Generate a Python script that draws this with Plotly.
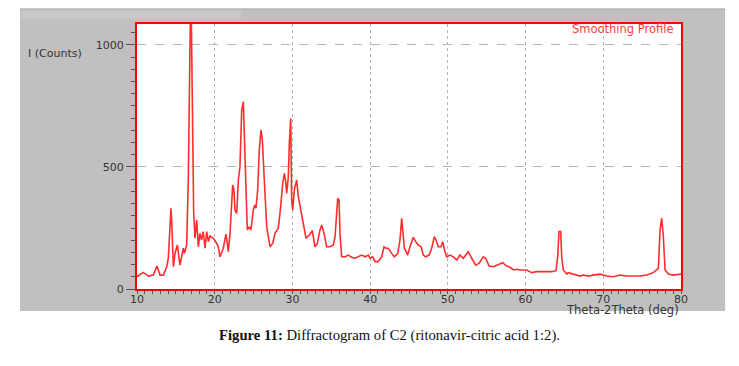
import plotly.graph_objects as go

# Diffraction angle (deg, 2-theta) and intensity (counts)
two_theta = [10.0, 10.8, 11.45, 12.1, 12.57, 12.96, 13.4, 13.82, 14.03, 14.25, 14.37, 14.46, 14.68, 14.89,
             15.19, 15.53, 15.75, 15.96, 16.1, 16.39, 16.6, 16.73, 16.86, 17.0, 17.12, 17.29, 17.46, 17.68,
             17.89, 18.1, 18.3, 18.53, 18.75, 18.97, 19.18, 19.39, 19.82, 20.13, 20.46, 20.68, 21.1, 21.45,
             21.62, 21.75, 21.97, 22.19, 22.31, 22.48, 22.6, 22.83, 23.04, 23.25, 23.47, 23.68, 23.9, 24.03,
             24.2, 24.45, 24.67, 24.97, 25.15, 25.31, 25.53, 25.74, 25.96, 26.13, 26.38, 26.69, 27.12, 27.46,
             27.76, 28.18, 28.49, 28.75, 28.96, 29.13, 29.26, 29.47, 29.6, 29.78, 29.9, 30.04, 30.24, 30.55,
             30.76, 31.07, 31.4, 31.75, 32.17, 32.56, 32.9, 33.2, 33.55, 33.77, 34.06, 34.41, 34.84, 35.26,
             35.48, 35.7, 35.83, 36.0, 36.12, 36.34, 36.77, 37.19, 37.63, 38.05, 38.48, 38.92, 39.34, 39.77,
             39.98, 40.33, 40.63, 41.05, 41.49, 41.78, 42.04, 42.34, 42.77, 43.11, 43.55, 43.84, 44.06, 44.19,
             44.4, 44.57, 44.83, 45.13, 45.56, 45.86, 46.2, 46.55, 46.84, 47.15, 47.58, 47.92, 48.26, 48.44,
             48.77, 49.12, 49.34, 49.63, 49.85, 50.28, 50.7, 51.14, 51.56, 51.99, 52.63, 53.07, 53.58, 54.0,
             54.56, 54.87, 55.3, 55.85, 56.07, 56.5, 57.06, 57.57, 58.0, 58.43, 58.86, 59.29, 59.71, 60.15,
             60.79, 61.43, 62.08, 62.72, 63.36, 63.92, 64.13, 64.3, 64.52, 64.65, 64.86, 65.3, 65.5, 66.14,
             67.0, 67.43, 68.2, 68.7, 69.58, 70.44, 71.3, 72.15, 73.0, 73.87, 74.73, 75.59, 76.44, 77.09,
             77.3, 77.52, 77.73, 77.95, 78.38, 79.02, 80.0]
counts = [50, 68, 53, 57, 94, 57, 57, 91, 126, 296, 331, 283, 91, 146,
          180, 98, 139, 167, 146, 180, 447, 788, 1090, 1090, 783, 317, 208, 283,
          173, 228, 201, 235, 167, 235, 194, 217, 208, 194, 173, 132, 167, 225,
          187, 153, 228, 337, 426, 406, 324, 310, 447, 501, 733, 768, 583, 406,
          242, 255, 242, 324, 344, 331, 406, 570, 652, 611, 447, 255, 173, 187,
          228, 249, 337, 433, 474, 440, 392, 460, 597, 699, 365, 324, 406, 447,
          378, 324, 255, 208, 221, 239, 173, 187, 242, 262, 228, 173, 173, 180,
          214, 324, 372, 365, 228, 132, 132, 139, 130, 126, 132, 139, 132, 139,
          126, 132, 112, 112, 132, 173, 167, 167, 146, 132, 146, 201, 290, 242,
          167, 157, 139, 173, 212, 194, 180, 173, 139, 132, 139, 167, 214, 204,
          173, 173, 194, 153, 132, 139, 132, 119, 139, 126, 153, 126, 98, 105,
          132, 126, 94, 91, 94, 102, 108, 94, 89, 78, 81, 78, 78, 78,
          67, 71, 71, 71, 71, 75, 132, 235, 235, 132, 78, 61, 67, 61,
          53, 57, 53, 57, 61, 53, 50, 57, 53, 53, 53, 57, 67, 85,
          242, 290, 214, 78, 61, 57, 61]

x_ticks = [10, 20, 30, 40, 50, 60, 70, 80]
y_ticks = [0, 500, 1000]

fig = go.Figure()
fig.add_trace(go.Scatter(x=two_theta, y=counts, mode="lines",
                         line=dict(color="rgb(255,45,45)", width=1.6),
                         showlegend=False, hoverinfo="skip"))

tickfont = dict(family="DejaVu Sans", size=11, color="#333333")

# the page body has an 8px margin: figure placed at (8, 8) in the page
fig.update_layout(
    width=731, height=358,
    margin=dict(l=129, r=58, t=16, b=77),
    paper_bgcolor="white", plot_bgcolor="white",
    xaxis=dict(range=[10, 80], tickvals=x_ticks, ticks="outside", ticklen=3, tickcolor="#555555",
               tickfont=tickfont, ticklabelstandoff=-4,
               showgrid=True, gridcolor="#b4b4b4", griddash="dot", gridwidth=1,
               showline=True, linecolor="red", linewidth=2, mirror=True, zeroline=False,
               minor=dict(dtick=1, ticks="outside", ticklen=3, tickcolor="#555555", showgrid=False)),
    yaxis=dict(range=[0, 1086], tickvals=y_ticks, ticks="outside", ticklen=9, tickcolor="#555555",
               tickfont=tickfont, showgrid=True, gridcolor="#b4b4b4", griddash="dash", gridwidth=1,
               showline=True, linecolor="red", linewidth=2, mirror=True, zeroline=False,
               minor=dict(dtick=50, ticks="outside", ticklen=4, tickcolor="#555555", showgrid=False)),
    shapes=[
        dict(type="rect", xref="paper", yref="paper", x0=-0.215, x1=1.081, y0=-0.083, y1=1.057,
             fillcolor="#c0c0c0", line=dict(width=0), layer="below"),
        dict(type="line", xref="paper", yref="paper", x0=-0.215, x1=1.081, y0=1.057, y1=1.057,
             line=dict(color="#a8a8a8", width=1), layer="below"),
        dict(type="rect", xref="paper", yref="paper", x0=-0.2114, x1=0.191, y0=1.019, y1=1.049,
             fillcolor="#c9c9c9", line=dict(width=0), layer="below"),
        dict(type="rect", xref="paper", yref="paper", x0=0, x1=1, y0=0, y1=1,
             fillcolor="white", line=dict(width=0), layer="below"),
    ],
    annotations=[
        dict(text="I (Counts)", xref="paper", yref="paper", x=-0.204, y=0.887, xanchor="left",
             yanchor="middle", showarrow=False, font=dict(family="DejaVu Sans", size=11, color="#333333")),
        dict(text="Theta-2Theta (deg)", xref="paper", yref="paper", x=1.0, y=-0.08, xanchor="right",
             yanchor="middle", showarrow=False, font=dict(family="DejaVu Sans", size=11.5, color="#333333")),
        dict(text="Smoothing Profile", xref="paper", yref="paper", x=0.991, y=0.981, xanchor="right",
             yanchor="middle", showarrow=False, font=dict(family="DejaVu Sans", size=11.5, color="#ff3a3a")),
        dict(text="<b>Figure 11:</b> Diffractogram of C2 (ritonavir-citric acid 1:2).",
             xref="paper", yref="paper", x=(389 - 137) / 544, y=-0.1736, xanchor="center",
             yanchor="middle", showarrow=False, font=dict(family="Liberation Serif", size=14.7, color="#111111")),
    ],
)

fig.write_html("out.html")
